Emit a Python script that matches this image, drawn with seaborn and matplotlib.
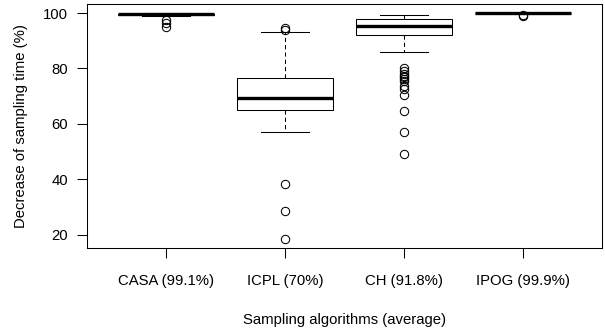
import matplotlib
matplotlib.use("Agg")
import matplotlib.pyplot as plt
import pandas as pd
import seaborn as sns

# ---- data ----
categories = ["CASA (99.1%)", "ICPL (70%)", "CH (91.8%)", "IPOG (99.9%)"]

casa = [94.9, 96.5, 97.6, 98.9, 99.1, 99.2, 99.3, 99.4, 99.5, 99.5, 99.6,
        99.6, 99.7, 99.7, 99.8, 99.8, 99.9, 99.9, 100.0, 100.0, 100.0]

icpl = [18.5, 28.5, 38.5, 57.1, 62.0, 65.0, 66.0, 67.0, 68.0, 69.0, 69.4,
        70.5, 72.0, 73.5, 75.0, 76.4, 80.0, 85.0, 93.1, 93.9, 94.6]

ch = [49.2, 57.0, 64.8, 70.5, 72.5, 73.8, 75.5, 76.2, 76.8, 77.3, 78.0, 79.0, 80.2,
      86.1,
      92.1,
      92.3, 92.5, 92.8, 93.0, 93.3, 93.5, 93.8, 94.0, 94.3, 94.6, 94.9, 95.1, 95.3,
      95.4,
      95.6, 95.8, 96.0, 96.2, 96.4, 96.6, 96.8, 97.0, 97.2, 97.4, 97.5, 97.6, 97.7,
      97.8,
      97.9, 98.0, 98.1, 98.2, 98.3, 98.4, 98.5, 98.6, 98.7, 98.8, 98.9, 99.0, 99.2,
      99.3]

ipog = [99.1, 99.3, 99.8, 99.85, 99.9, 99.9, 100.0, 100.0, 100.0, 100.0, 100.0,
        100.0, 100.0, 100.0, 100.0, 100.0, 100.0, 100.0, 100.0, 100.0, 100.0]

y_ticks = [20, 40, 60, 80, 100]
x_title = "Sampling algorithms (average)"
y_title = "Decrease of sampling time (%)"

series = [casa, icpl, ch, ipog]
df = pd.DataFrame({
    "algorithm": [c for c, vals in zip(categories, series) for _ in vals],
    "value": [v for vals in series for v in vals],
})

plt.rcParams["font.family"] = ["Liberation Sans", "DejaVu Sans"]
FS = 10.7

fig = plt.figure(figsize=(6.05, 3.29), dpi=100)
ax = fig.add_axes([87 / 605, 1 - 248 / 329, (602 - 87) / 605, (248 - 4) / 329])

sns.boxplot(
    data=df, x="algorithm", y="value", order=categories, ax=ax,
    color="white", linecolor="black", linewidth=0.75, width=0.8, whis=1.5,
    saturation=1,
    medianprops=dict(color="black", linewidth=2.4, solid_capstyle="butt"),
    whiskerprops=dict(color="black", linewidth=0.75, linestyle=(0, (4, 3))),
    capprops=dict(color="black", linewidth=0.75),
    boxprops=dict(edgecolor="black", facecolor="white", linewidth=0.75),
    flierprops=dict(marker="o", markerfacecolor="none", markeredgecolor="black",
                    markersize=6, markeredgewidth=0.75),
)

ax.set_xlim(-0.664, 3.664)
ax.set_ylim(15.24, 103.26)
ax.set_yticks(y_ticks)
ax.set_yticklabels([str(t) for t in y_ticks])

for sp in ax.spines.values():
    sp.set_visible(True)
    sp.set_color("black")
    sp.set_linewidth(0.75)

ax.tick_params(axis="both", direction="out", length=7, width=0.75,
               colors="black", labelsize=FS)
ax.tick_params(axis="x", pad=11.5)
ax.tick_params(axis="y", pad=6.5)

ax.set_xlabel(x_title, fontsize=FS, labelpad=18)
ax.set_ylabel(y_title, fontsize=FS, labelpad=11)

fig.savefig("out.png", dpi=100)
